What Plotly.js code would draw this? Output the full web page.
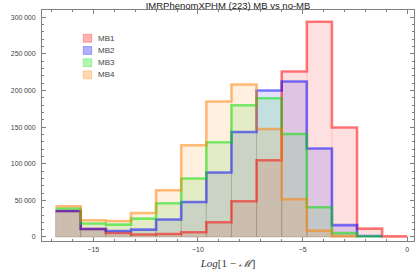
<!DOCTYPE html>
<html>
<head>
<meta charset="utf-8">
<script src="https://cdn.plot.ly/plotly-3.0.1.min.js"></script>
<style>html,body{margin:0;padding:0;background:#fff;}#chart{width:415px;height:271px;}</style>
</head>
<body>
<div id="chart"></div>
<script>
// Bin edges of Log[1 - M]
const binEdges = [-16.8, -15.6, -14.4, -13.2, -12.0, -10.8, -9.6, -8.4, -7.2, -6.0, -4.8, -3.6, -2.4, -1.2, 0.0];
const seriesNames = ["MB1", "MB2", "MB3", "MB4"];
// counts per bin
const mb1 = [35500, 10800, 5500, 3300, 4100, 6400, 20100, 48800, 104800, 226000, 294000, 149500, 11400, 800];
const mb2 = [35500, 10800, 8200, 10000, 23800, 47800, 88000, 143400, 200000, 212300, 120800, 16200, 1300];
const mb3 = [38800, 18300, 16900, 25000, 46000, 79800, 129400, 179900, 189500, 140700, 40600, 5300, 1000];
const mb4 = [42000, 22800, 21800, 32700, 63800, 125300, 185000, 208200, 147500, 51500, 8700, 1200];
const seriesValues = [mb1, mb2, mb3, mb4];
const baseColors = [[255,0,0],[0,0,255],[0,225,0],[255,128,0]];

function rgba(c, a){ return 'rgba(' + c[0] + ',' + c[1] + ',' + c[2] + ',' + a + ')'; }

const traces = [];
// filled bars
seriesValues.forEach((vals, k) => {
  const xs = vals.map((v, i) => (binEdges[i] + binEdges[i+1]) / 2);
  const ws = vals.map((v, i) => binEdges[i+1] - binEdges[i]);
  traces.push({
    type: 'bar', x: xs, y: vals, width: ws,
    marker: {color: rgba(baseColors[k], 0.12), line: {color: rgba(baseColors[k], 0.10), width: 0.8}},
    showlegend: false, hoverinfo: 'skip'
  });
});
// step outlines
seriesValues.forEach((vals, k) => {
  const xs = binEdges.slice(0, vals.length + 1);
  const ys = vals.concat([vals[vals.length - 1]]);
  traces.push({
    type: 'scatter', mode: 'lines', x: xs, y: ys,
    line: {shape: 'hv', color: rgba(baseColors[k], 0.5), width: 2.6},
    showlegend: false, hoverinfo: 'skip'
  });
});

// custom compact legend (swatch + label)
const shapes = [];
const annotations = [];
const legX0 = 0.111, legX1 = 0.1336, legTextX = 0.1444;
const legY0 = 0.8775, legDy = 0.0528, legHalf = 0.0170;
seriesNames.forEach((name, k) => {
  const yc = legY0 - k * legDy;
  shapes.push({type: 'rect', xref: 'paper', yref: 'paper', x0: legX0, x1: legX1, y0: yc - legHalf, y1: yc + legHalf,
    fillcolor: rgba(baseColors[k], 0.3), line: {color: rgba(baseColors[k], 0.3), width: 1}});
  annotations.push({xref: 'paper', yref: 'paper', x: legTextX, y: yc, xanchor: 'left', yanchor: 'middle',
    text: name, showarrow: false, font: {family: 'Liberation Sans, Arial, sans-serif', size: 8, color: '#444'}});
});

const axisCommon = {
  showline: true, linecolor: '#808080', linewidth: 1, mirror: 'ticks',
  ticks: 'inside', ticklen: 4, tickcolor: '#808080', tickwidth: 1,
  showgrid: false, zeroline: false,
  tickfont: {family: 'Liberation Sans, Arial, sans-serif', size: 7, color: '#444'}
};

const layout = {
  width: 415, height: 271,
  margin: {l: 42, r: 1, t: 10, b: 30, pad: 0},
  paper_bgcolor: '#fff', plot_bgcolor: '#fff',
  separators: '.\u2009',
  barmode: 'overlay', bargap: 0,
  title: {text: 'IMRPhenomXPHM (223) MB vs no-MB', x: 0.5, xref: 'paper', xanchor: 'center',
    y: 0.98, yref: 'container', yanchor: 'middle',
    font: {family: 'Liberation Sans, Arial, sans-serif', size: 9.5, color: '#222'}},
  xaxis: Object.assign({}, axisCommon, {
    range: [-17.45, 0.32], tickmode: 'linear', tick0: 0, dtick: 5,
    minor: {ticks: 'inside', ticklen: 2, tickcolor: '#808080', dtick: 1, tick0: 0},
    ticklabelstandoff: 2,
    title: {text: '<i>Log</i>[1 − <i>ℳ</i>]', standoff: 6,
      font: {family: 'Liberation Serif, DejaVu Serif, serif', size: 11, color: '#333'}}
  }),
  yaxis: Object.assign({}, axisCommon, {
    range: [-5500, 310000], tickmode: 'linear', tick0: 0, dtick: 50000, tickformat: ',d',
    minor: {ticks: 'inside', ticklen: 2, tickcolor: '#808080', dtick: 10000, tick0: 0},
    ticklabelstandoff: 4
  }),
  shapes: shapes,
  annotations: annotations,
  showlegend: false
};

Plotly.newPlot('chart', traces, layout, {staticPlot: true, displayModeBar: false});
</script>
</body>
</html>
